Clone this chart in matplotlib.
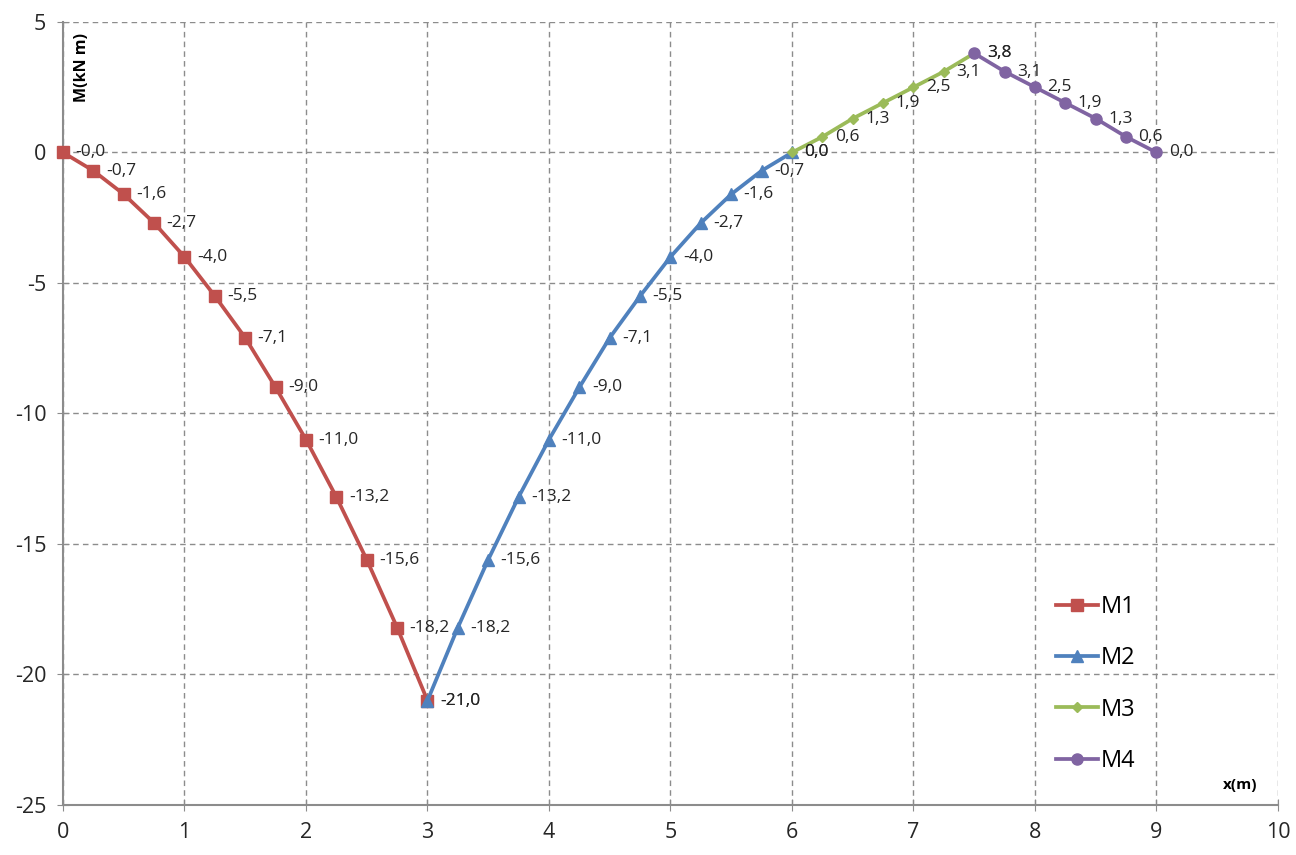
import numpy as np
import matplotlib.pyplot as plt

plt.rcParams['font.family'] = ['Open Sans', 'DejaVu Sans']
plt.rcParams['axes.unicode_minus'] = False

# moment diagram data (x in m, M in kN m)
x1 = [0, 0.25, 0.5, 0.75, 1.0, 1.25, 1.5, 1.75, 2.0, 2.25, 2.5, 2.75, 3.0]
m1 = [-0.0, -0.7, -1.6, -2.7, -4.0, -5.5, -7.1, -9.0, -11.0, -13.2, -15.6, -18.2, -21.0]
x2 = [3.0, 3.25, 3.5, 3.75, 4.0, 4.25, 4.5, 4.75, 5.0, 5.25, 5.5, 5.75, 6.0]
m2 = [-21.0, -18.2, -15.6, -13.2, -11.0, -9.0, -7.1, -5.5, -4.0, -2.7, -1.6, -0.7, 0.0]
x3 = [6.0, 6.25, 6.5, 6.75, 7.0, 7.25, 7.5]
m3 = [0.0, 0.6, 1.3, 1.9, 2.5, 3.1, 3.8]
x4 = [7.5, 7.75, 8.0, 8.25, 8.5, 8.75, 9.0]
m4 = [3.8, 3.1, 2.5, 1.9, 1.3, 0.6, 0.0]

series = [
    ("M1", x1, m1, '#C0504D', 's', 8),
    ("M2", x2, m2, '#4F81BD', '^', 8),
    ("M3", x3, m3, '#9BBB59', 'D', 5),
    ("M4", x4, m4, '#8064A2', 'o', 8),
]

fig = plt.figure(figsize=(12.96, 8.55), dpi=100)
ax = fig.add_axes([0.0486, 0.0585, 0.9375, 0.9158])

for name, xs, ms, col, mk, msz in series:
    ax.plot(xs, ms, color=col, lw=2.7, marker=mk, markersize=msz, label=name,
            zorder=3, clip_on=False)
    for xv, mv in zip(xs, ms):
        ax.annotate(f"{mv:.1f}".replace('.', ','), (xv, mv), xytext=(9, 0),
                    textcoords='offset points', ha='left', va='center',
                    fontsize=12.5, color='#262626', zorder=4)

ax.set_xlim(0, 10)
ax.set_ylim(-25, 5)
ax.set_xticks(np.arange(0, 11, 1))
ax.set_yticks(np.arange(-25, 6, 5))
ax.grid(True, ls=(0, (4, 3)), color='#8c8c8c', lw=1.0)
ax.set_axisbelow(True)
for s in ['top', 'right']:
    ax.spines[s].set_visible(False)
for s in ['left', 'bottom']:
    ax.spines[s].set_color('#8c8c8c')
    ax.spines[s].set_linewidth(1.5)
ax.tick_params(direction='inout', length=8, color='#8c8c8c', labelsize=15.5,
               labelcolor='#262626', pad=8)

ax.text(0.0156, 0.986, "M(kN m)", transform=ax.transAxes, rotation=90,
        ha='center', va='top', fontsize=11.5, fontweight='bold')
ax.text(0.969, 0.026, "x(m)", transform=ax.transAxes, ha='center',
        va='center', fontsize=11, fontweight='bold')

ax.legend(loc='lower right', bbox_to_anchor=(0.9, 0.014), frameon=False,
          fontsize=17, handlelength=1.8, handletextpad=0.1, labelspacing=1.15)

fig.savefig("out.png", dpi=100)
